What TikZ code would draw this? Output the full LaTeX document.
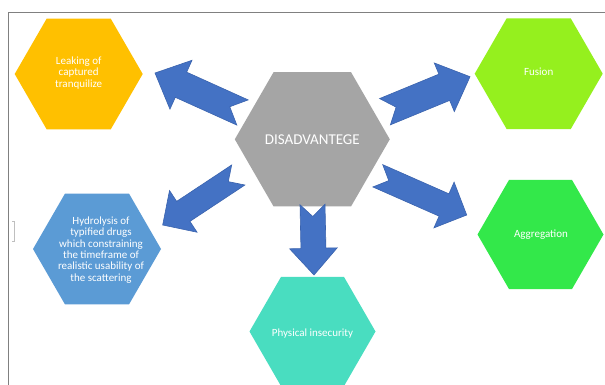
\documentclass[tikz,border=0pt]{standalone}
\usepackage{fontspec}
\setmainfont{Carlito}
\usetikzlibrary{shapes.geometric,calc}
\definecolor{cYel}{HTML}{FFC000}
\definecolor{cGray}{HTML}{A5A5A5}
\definecolor{cLime}{HTML}{95F01E}
\definecolor{cGreen}{HTML}{33E84A}
\definecolor{cTurq}{HTML}{49DDC0}
\definecolor{cBlue}{HTML}{5B9BD5}
\definecolor{cArr}{HTML}{4472C4}
\definecolor{cArrD}{HTML}{3A63AE}
\tikzset{
  hexbox/.style={regular polygon, regular polygon sides=6, inner sep=0pt, outer sep=0pt, draw=none},
  hexlabel/.style={inner sep=0pt, text=white, align=center, font=\fontsize{11}{11.3}\selectfont},
  blockarrow/.style={fill=cArr, draw=cArrD, line width=0.6pt, line join=miter},
  frameline/.style={draw=black!50, line width=0.9pt}
}
\newcommand{\blockarr}[6]{%
  \coordinate (hb) at ($(#2)!#5!(#1)$);
  \path[blockarrow] ($(#1)!#3!90:(#2)$) -- ($(hb)!#3!90:(#2)$) -- ($(hb)!#4!90:(#2)$)
    -- (#2) -- ($(hb)!#4!-90:(#2)$) -- ($(hb)!#3!-90:(#2)$) -- ($(#1)!#3!-90:(#2)$)
    -- ($(#1)!#6!(#2)$) -- cycle;
}
\begin{document}
\begin{tikzpicture}[x=1pt,y=-1pt]
\useasboundingbox (0,0) rectangle (605,385);
\fill[white] (0,0) rectangle (605,385);
\draw[frameline] (605,12) -- (8,12) -- (8,385);
\draw[black!25, line width=0.8pt] (12,221) -- (14,221) -- (14,241) -- (12,241);

\node[hexbox, fill=cYel, minimum size=128pt] (leak) at (78.7,74) {};
\node[hexbox, fill=cGray, minimum size=155pt] (dis) at (312.3,139.3) {};
\node[hexbox, fill=cLime, minimum size=128pt] (fus) at (538.7,73.7) {};
\node[hexbox, fill=cGreen, minimum size=126pt] (agg) at (540.5,234.5) {};
\node[hexbox, fill=cTurq, minimum size=126pt] (phy) at (312.5,331.5) {};
\node[hexbox, fill=cBlue, minimum size=128pt] (hyd) at (97,249) {};

\node[hexlabel] (leakt) at ($(leak.center)+(0,-1)$) {Leaking of\\captured\\tranquilize};
\node[hexlabel, font=\fontsize{15}{17}\selectfont] (dist) at (dis.center) {DISADVANTEGE};
\node[hexlabel] (fust) at ($(fus.center)+(0,-1.5)$) {Fusion};
\node[hexlabel] (aggt) at ($(agg.center)+(0.5,0.5)$) {Aggregation};
\node[hexlabel] (phyt) at ($(phy.center)+(0,2.5)$) {Physical insecurity};
\node[hexlabel] (hydt) at ($(hyd.center)+(4,1)$) {Hydrolysis of\\typified drugs\\which constraining\\the timeframe of\\realistic usability of\\the scattering};

\coordinate (a1t) at (242.5,112.5); \coordinate (a1p) at (155,73);
\coordinate (a2t) at (385,111.7);   \coordinate (a2p) at (470,76.7);
\coordinate (a3t) at (238.3,175);   \coordinate (a3p) at (162.7,225);
\coordinate (a4t) at (377.8,175.8); \coordinate (a4p) at (466.7,215);
\coordinate (a5t) at (312.5,204.5); \coordinate (a5p) at (314,275);

\blockarr{a1t}{a1p}{13.8pt}{26.8pt}{28.5pt}{14pt}
\blockarr{a2t}{a2p}{14.2pt}{26.3pt}{27.8pt}{12pt}
\blockarr{a3t}{a3p}{12pt}{25pt}{24.7pt}{12pt}
\blockarr{a4t}{a4p}{12.2pt}{25pt}{24.8pt}{12pt}
\blockarr{a5t}{a5p}{12.5pt}{23.8pt}{26.7pt}{12pt}
\end{tikzpicture}
\end{document}
